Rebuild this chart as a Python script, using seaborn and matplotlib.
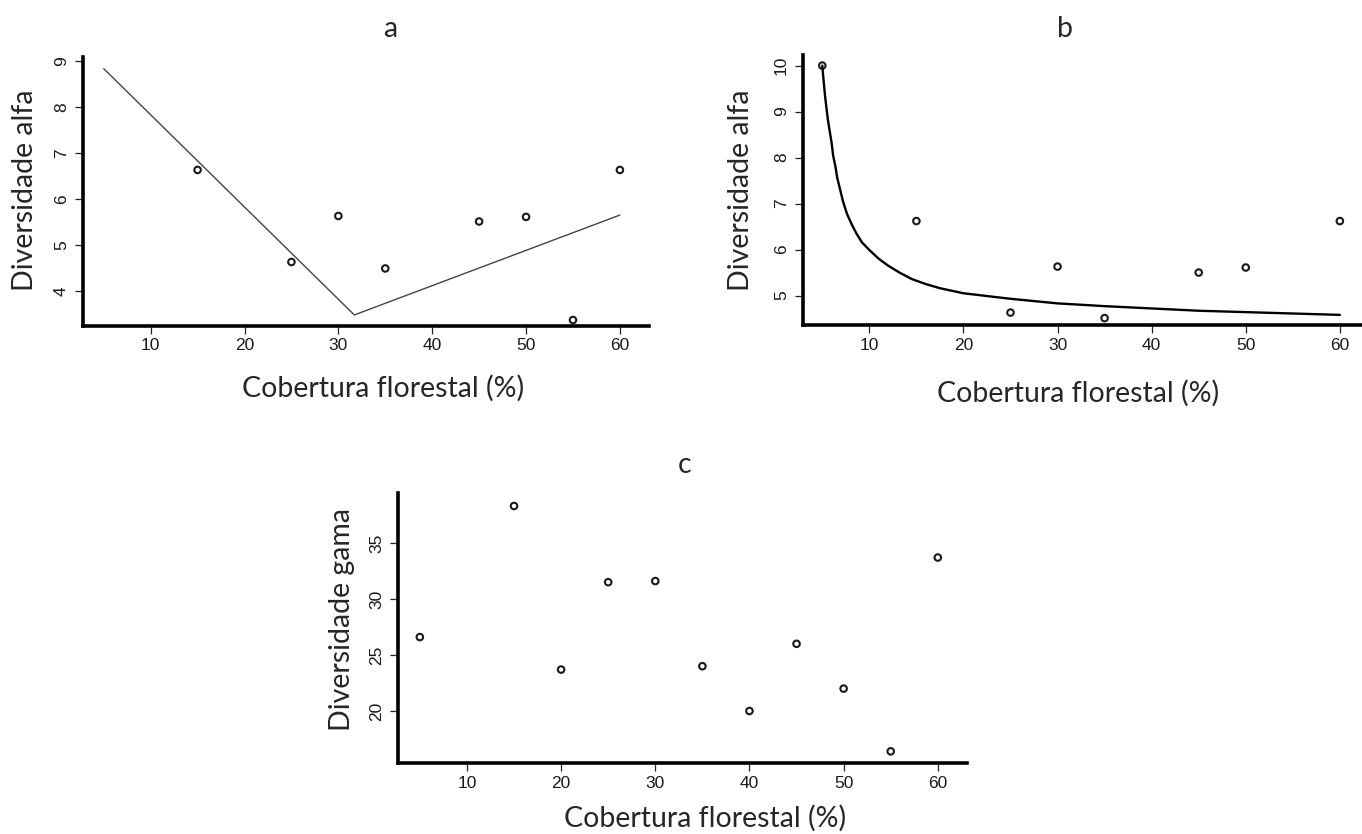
import matplotlib
matplotlib.use('Agg')
import matplotlib.pyplot as plt
import seaborn as sns

# panel a: alpha diversity, segmented fit
a_x = [15, 25, 30, 35, 45, 50, 55, 60]
a_y = [6.63, 4.63, 5.63, 4.49, 5.51, 5.61, 3.37, 6.63]
a_fit_x = [5, 31.7, 60]
a_fit_y = [8.83, 3.48, 5.65]

# panel b: alpha diversity, curve fit
b_x = [5, 15, 25, 30, 35, 45, 50, 60]
b_y = [10.0, 6.62, 4.63, 5.63, 4.51, 5.50, 5.61, 6.62]
b_fit_x = [5, 5.15, 5.3, 5.45, 5.6, 5.8, 6, 6.15, 6.4, 6.6, 6.9, 7.2, 7.6, 8.1, 8.6, 9.2,
           10, 11, 12, 13.2, 14.5, 16, 17.5, 20, 22.5, 25, 30, 35, 40, 45, 50, 55, 60]
b_fit_y = [10.0, 9.65, 9.33, 9.07, 8.82, 8.56, 8.31, 8.05, 7.80, 7.55, 7.30, 7.05, 6.79,
           6.56, 6.36, 6.16, 5.99, 5.80, 5.65, 5.50, 5.36, 5.25, 5.16, 5.05, 4.99,
           4.93, 4.83, 4.77, 4.72, 4.67, 4.64, 4.61, 4.58]

# panel c: gamma diversity
c_x = [5, 15, 20, 25, 30, 35, 40, 45, 50, 55, 60]
c_y = [26.6, 38.3, 23.7, 31.5, 31.6, 24.0, 20.0, 26.0, 22.0, 16.4, 33.7]

x_ticks = [10, 20, 30, 40, 50, 60]
x_label = 'Cobertura florestal (%)'

sns.set_theme(style='ticks')
plt.rcParams['font.family'] = ['Liberation Sans', 'DejaVu Sans']

label_font = dict(family=['Lato', 'DejaVu Sans'], fontsize=20.5)

fig = plt.figure(figsize=(13.62, 8.34), dpi=100)
W, H = 1362, 834


def px_axes(left, right, top, bottom):
    return fig.add_axes([left / W, 1 - bottom / H, (right - left) / W, (bottom - top) / H])


ax_a = px_axes(82.7, 649, 56.7, 326)
ax_b = px_axes(802.7, 1361.5, 55, 325)
ax_c = px_axes(398, 967, 493, 763)


def style(ax, title, ylabel, yticks, xlim, ylim, title_pos, ylabel_pos, xlabel_pos):
    ax.set_xlim(*xlim)
    ax.set_ylim(*ylim)
    ax.set_xticks(x_ticks)
    ax.set_yticks(yticks)
    sns.despine(ax=ax)
    for s in ['left', 'bottom']:
        ax.spines[s].set_linewidth(2.6)
        ax.spines[s].set_color('black')
    ax.tick_params(axis='both', length=5.5, width=0.9, color='#222222', labelsize=12.5,
                   labelcolor='#1a1a1a', direction='out')
    ax.tick_params(axis='x', pad=3.5)
    ax.tick_params(axis='y', pad=4.5, labelrotation=90)
    for lab in ax.get_yticklabels():
        lab.set_va('center')
    ax.set_xlabel(x_label, **label_font)
    ax.set_ylabel(ylabel, **label_font)
    ax.xaxis.label.set_va('center')
    ax.yaxis.label.set_va('center')
    ax.xaxis.set_label_coords(*xlabel_pos)
    ax.yaxis.set_label_coords(*ylabel_pos)
    ax.text(*title_pos, title, transform=ax.transAxes, ha='center', va='center', **label_font)
    ax.set_facecolor('white')


marker_kw = dict(marker='o', s=22, facecolor='none', edgecolor='#1a1a1a', linewidth=1.5)

# a
sns.lineplot(x=a_fit_x, y=a_fit_y, sort=False, color='#444444', linewidth=1.0, ax=ax_a)
sns.scatterplot(x=a_x, y=a_y, ax=ax_a, **marker_kw)
style(ax_a, 'a', 'Diversidade alfa', [4, 5, 6, 7, 8, 9], (2.76, 63.1), (3.24, 9.09),
      (0.543, 1.103), (-0.102, 0.505), (0.530, -0.230))

# b
sns.lineplot(x=b_fit_x, y=b_fit_y, sort=False, color='black', linewidth=1.7, ax=ax_b)
sns.scatterplot(x=b_x, y=b_y, ax=ax_b, **marker_kw)
style(ax_b, 'b', 'Diversidade alfa', [5, 6, 7, 8, 9, 10], (2.92, 62.3), (4.36, 10.23),
      (0.469, 1.096), (-0.110, 0.5), (0.492, -0.252))

# c
sns.scatterplot(x=c_x, y=c_y, ax=ax_c, **marker_kw)
style(ax_c, 'c', 'Diversidade gama', [20, 25, 30, 35], (2.68, 63.1), (15.36, 39.46),
      (0.503, 1.104), (-0.098, 0.53), (0.540, -0.204))

fig.savefig('out.png', dpi=100, facecolor='white')
plt.close(fig)
